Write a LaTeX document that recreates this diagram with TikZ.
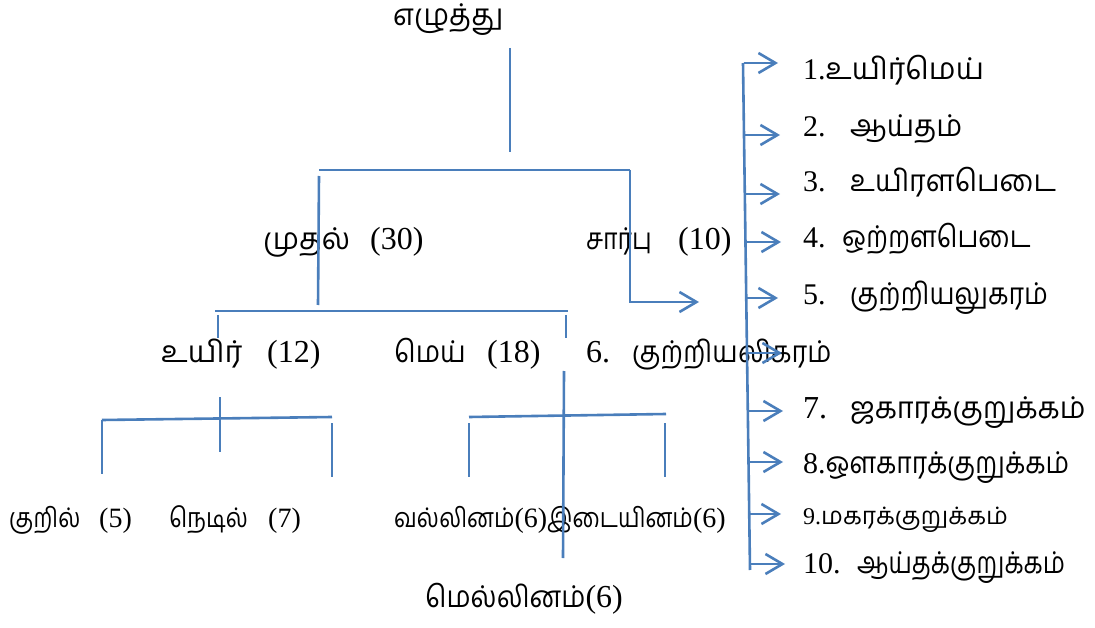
\documentclass[tikz,border=0pt]{standalone}
\usepackage{fontspec}
\setmainfont{Liberation Serif}
\newfontfamily\ta[Script=Tamil]{Hind Madurai}
\usetikzlibrary{arrows.meta}
\definecolor{lnc}{RGB}{74,126,187}
\newcommand\szA{\fontsize{30}{36}\selectfont}
\newcommand\szB{\fontsize{27}{32}\selectfont}
\newcommand\szC{\fontsize{24}{29}\selectfont}
\newcommand\dA{\fontsize{32}{38}\selectfont}
\newcommand\dB{\fontsize{28}{33}\selectfont}
\newcommand\tm[2][1]{\scalebox{#1}[1]{\ta #2}}
\begin{document}
\begin{tikzpicture}[x=1pt,y=-1pt,
  lbl/.style={inner sep=0pt, anchor=base west},
  ln/.style={draw=lnc, line width=2.6pt},
  arr/.style={ln, -{Straight Barb[length=17pt,width=20pt]}}]
\useasboundingbox (0,0) rectangle (1095,628);
% labels
\node[lbl,font=\szA] (root) at (393,26) {\tm[0.955]{எழுத்து}};
\node[lbl,font=\szA] (mudal) at (263,250) {\makebox[107pt][l]{\tm[0.98]{முதல்}}{\dA(30)}};
\node[lbl,font=\szA] (sarpu) at (586,250) {\makebox[92pt][l]{\tm[0.83]{சார்பு}}{\dA(10)}};
\node[lbl,font=\szA] (uyir) at (161,362) {\makebox[106pt][l]{\tm[1.02]{உயிர்}}{\dA(12)}};
\node[lbl,font=\szA] (mei) at (394,362) {\makebox[93pt][l]{\tm[0.91]{மெய்}}{\dA(18)}};
\node[lbl,font=\szA] (l6) at (586,362) {\makebox[46pt][l]{\dA 6.}\tm[0.9]{குற்றியலிகரம்}};
\node[lbl,font=\szB] (kuril) at (9,527) {\makebox[90pt][l]{\tm[0.85]{குறில்}}{\dB(5)}};
\node[lbl,font=\szB] (nedil) at (169,527) {\makebox[99pt][l]{\tm[0.85]{நெடில்}}{\dB(7)}};
\node[lbl,font=\szB] (valli) at (394,527) {\tm[0.85]{வல்லினம்}{\dB(6)}\tm[0.85]{இடையினம்}{\dB(6)}};
\node[lbl,font=\szA] (melli) at (425,607) {\tm[0.9]{மெல்லினம்}{\dA(6)}};
\node[lbl,font=\szA] (l1) at (803,80) {1.\tm[1.0]{உயிர்மெய்}};
\node[lbl,font=\szA] (l2) at (803,137) {\makebox[47pt][l]{2.}\tm[0.97]{ஆய்தம்}};
\node[lbl,font=\szA] (l3) at (803,192) {\makebox[47pt][l]{3.}\tm[0.95]{உயிரளபெடை}};
\node[lbl,font=\szA] (l4) at (803,248) {\makebox[39pt][l]{4.}\tm[0.88]{ஒற்றளபெடை}};
\node[lbl,font=\szA] (l5) at (803,305) {\makebox[47pt][l]{5.}\tm[0.89]{குற்றியலுகரம்}};
\node[lbl,font=\szA] (l7) at (803,418) {\makebox[47pt][l]{\dA 7.}\tm[0.96]{ஜகாரக்குறுக்கம்}};
\node[lbl,font=\szA] (l8) at (803,473) {8.\tm[0.88]{ஔகாரக்குறுக்கம்}};
\node[lbl,font=\szC] (l9) at (803,524) {9.\tm[1.02]{மகரக்குறுக்கம்}};
\node[lbl,font=\szA] (l10) at (803,573) {\makebox[54pt][l]{10.}\tm[0.83]{ஆய்தக்குறுக்கம்}};
% tree line points
\coordinate (s0a) at (510,48);  \coordinate (s0b) at (510,152);
\coordinate (b1l) at (319,170); \coordinate (b1r) at (630,170);
\coordinate (d1a) at (319,176); \coordinate (d1b) at (318,305);
\coordinate (d2b) at (630,302); \coordinate (d2t) at (699,302);
\coordinate (b2l) at (215,311); \coordinate (b2r) at (568,311);
\coordinate (d3a) at (218,315); \coordinate (d3b) at (218,338);
\coordinate (d4a) at (566,315); \coordinate (d4b) at (566,338);
\coordinate (s1a) at (220,397); \coordinate (s1b) at (220,452);
\coordinate (b3l) at (102,420); \coordinate (b3r) at (332,417);
\coordinate (g1b) at (102,474);
\coordinate (g2a) at (332,423); \coordinate (g2b) at (332,477);
\coordinate (s2a) at (564,371); \coordinate (s2b) at (563,558);
\coordinate (b4l) at (469,417); \coordinate (b4r) at (666,414);
\coordinate (g3a) at (469,423); \coordinate (g3b) at (469,477);
\coordinate (g4a) at (665,423); \coordinate (g4b) at (665,477);
% list spine
\coordinate (spA) at (743,63); \coordinate (spB) at (750,570);
\foreach \i/\y/\t in {1/63/778,2/135/780,3/194/780,4/242/781,5/298/778,6/353/782,7/411/783,8/462/783,9/514/781,10/564/785}{
  \pgfmathsetmacro\sx{743+7*(\y-63)/507+1}
  \coordinate (a\i s) at (\sx,\y);
  \coordinate (a\i t) at (\t,\y);
}
% draw tree
\draw[ln] (s0a) -- (s0b);
\draw[ln] (b1l) -- (b1r);
\draw[ln] (d1a) -- (d1b);
\draw[arr] (b1r) -- (d2b) -- (d2t);
\draw[ln] (b2l) -- (b2r);
\draw[ln] (d3a) -- (d3b);
\draw[ln] (d4a) -- (d4b);
\draw[ln] (s1a) -- (s1b);
\draw[ln] (b3l) -- (b3r);
\draw[ln] (b3l) -- (g1b);
\draw[ln] (g2a) -- (g2b);
\draw[ln] (s2a) -- (s2b);
\draw[ln] (b4l) -- (b4r);
\draw[ln] (g3a) -- (g3b);
\draw[ln] (g4a) -- (g4b);
\draw[ln] (spA) -- (spB);
\foreach \i in {1,...,10}{\draw[arr] (a\i s) -- (a\i t);}
\end{tikzpicture}
\end{document}
